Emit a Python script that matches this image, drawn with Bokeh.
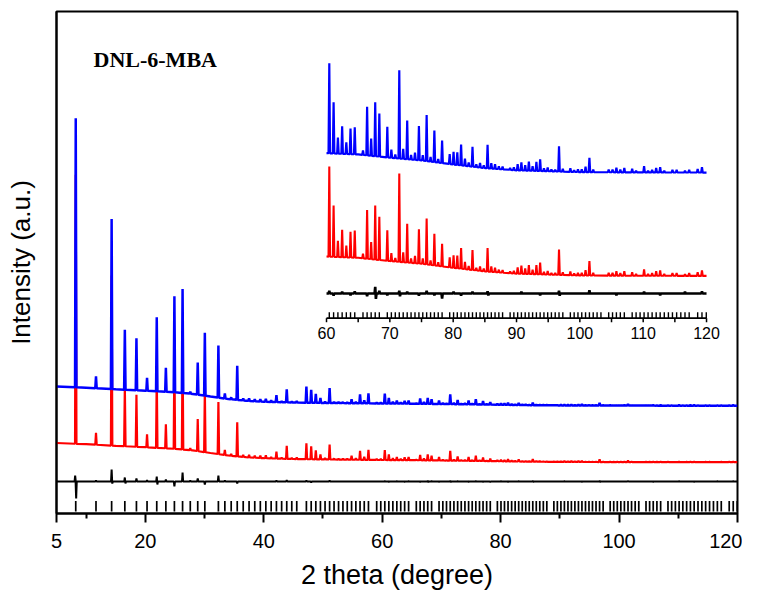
import numpy as np
from bokeh.plotting import figure
from bokeh.models import Range1d, FixedTicker, Label
from bokeh.core.properties import value
from bokeh.embed import file_html
from bokeh.resources import INLINE

# ---------------- data (2theta in degree, intensity in a.u.) ----------------
# background knots of the observed pattern
bg_tt = [5, 10, 15, 20, 25, 28, 31, 34, 37, 40, 45, 50, 55, 60, 65, 70, 75, 80,
         85, 90, 100, 110, 120]
bg_int = [127.0, 125.8, 124.2, 122.8, 121.2, 119.6, 117.0, 114.5, 112.8, 111.8,
          111.0, 110.6, 110.3, 110.0, 109.86, 109.5, 109.2, 108.75, 108.35,
          108.1, 107.9, 107.86, 107.85]

# peak positions and net peak intensities
peak_tt = [8.25, 11.67, 14.31, 16.54, 18.50, 20.29, 21.93, 23.47, 24.91, 26.29,
           27.59, 28.85, 30.05, 32.34, 33.43, 34.50, 35.52, 36.53, 37.52, 38.48,
           39.42, 40.35, 41.25, 42.14, 43.02, 43.88, 44.73, 45.57, 47.20, 48.01,
           48.79, 49.57, 50.35, 51.12, 51.87, 52.63, 53.37, 54.10, 54.83, 55.55,
           56.26, 56.97, 57.68, 59.07, 59.76, 60.44, 61.12, 61.80, 62.47, 63.13,
           63.79, 64.46, 65.76, 66.41, 67.05, 67.69, 68.34, 69.60, 70.24, 70.86,
           71.49, 72.11, 72.74, 73.35, 73.97, 74.59, 75.20, 75.81, 76.43, 77.03,
           77.64, 78.25, 79.45, 80.06, 80.65, 81.25, 81.86, 82.45, 83.05, 83.65,
           84.24, 84.83, 85.43, 86.02, 86.61, 87.21, 87.80, 88.99, 89.58, 90.18,
           90.77, 91.37, 91.95, 92.54, 93.14, 93.73, 94.33, 94.92, 95.51, 96.11,
           96.71, 97.31, 98.50, 99.10, 99.70, 100.30, 100.90, 101.51, 102.11,
           104.55, 105.16, 105.77, 106.39, 107.02, 108.26, 108.88, 110.14, 110.77,
           111.41, 112.05, 112.68, 113.33, 114.62, 115.28, 116.60, 117.26, 118.60,
           119.28]
peak_int = [269, 12, 170, 60, 52, 13, 74, 24, 96, 104,
            2, 32, 63, 52, 5, 2, 34, 2, 2.5, 2,
            2.5, 3, 1.5, 7, 1, 13, 1, 1.5, 16, 13,
            9, 5, 1.5, 15, 1, 1, 1, 1, 4, 1.5,
            9, 3, 10, 1, 1, 10.0, 5.7, 1.8, 3.05, 1.3,
            2.85, 3.0, 0.5, 5.4, 1.9, 6.0, 4.8, 3.4, 0.9, 0.4,
            9.8, 1.1, 4.3, 0.5, 0.8, 3.8, 0.6, 5.1, 0.5, 3.5,
            0.4, 2.5, 1.1, 1.4, 1.4, 2.3, 0.8, 0.4, 2.2, 0.3,
            0.5, 0.3, 2.6, 0.6, 0.5, 0.3, 0.3, 0.2, 0.3, 0.7,
            0.9, 0.6, 1.0, 0.5, 1.0, 1.3, 0.3, 0.4, 0.2, 0.2,
            2.8, 0.3, 0.4, 0.2, 0.3, 0.3, 0.6, 1.6, 0.3,
            0.3, 0.3, 0.5, 0.3, 0.5, 0.4, 0.2, 0.7, 0.2,
            0.3, 0.5, 0.6, 0.2, 0.3, 0.3, 0.2, 0.3, 0.4,
            0.6]

# difference curve (observed - calculated)
diff_tt = [8.15, 8.32, 11.67, 14.31, 14.42, 16.54, 16.64, 18.50, 20.29, 21.93,
           22.03, 23.47, 24.91, 26.29, 27.59, 28.85, 30.05, 32.34, 33.43, 35.52,
           42.14, 43.88, 47.20, 48.01, 51.12, 60.44, 61.12, 62.47, 63.79, 64.46,
           66.41, 67.69, 67.80, 68.34, 69.60, 71.49, 71.60, 72.74, 74.59, 75.81,
           77.03, 78.25, 80.06, 81.25, 83.05, 85.43, 85.55, 90.77, 93.73, 96.71,
           96.82, 101.51, 105.77, 110.14, 112.68, 116.60, 119.28]
diff_int = [6, -17, 1, 12, -2, 4, -2, 3, 1.5, 5,
            -3, 2, -5, 9, 1, 3, -3, 6, 1, -2,
            1, 1.5, 1, -1, 1, 0.3, -0.25, 0.2, -0.2, 0.25,
            -0.3, 0.75, -0.6, 0.3, -0.2, 0.3, -0.3, 0.2, -0.25, 0.3,
            -0.2, -0.55, 0.2, -0.25, 0.2, 0.25, -0.2, 0.2, -0.2, 0.3,
            -0.25, 0.35, -0.2, 0.2, -0.2, 0.2, 0.25]

# Bragg reflection positions
refl_tt = [8.25, 11.67, 14.31, 16.54, 18.50, 20.29, 21.93, 23.47, 24.91, 26.29,
           27.59, 28.85, 30.05, 32.34, 33.43, 34.50, 35.52, 36.53, 37.52, 38.48,
           39.42, 40.35, 41.25, 42.14, 43.02, 43.88, 44.73, 45.57, 47.20, 48.01,
           48.79, 49.57, 50.35, 51.12, 51.87, 52.63, 53.37, 54.10, 54.83, 55.55,
           56.26, 56.97, 57.68, 59.07, 59.76, 60.44, 61.12, 61.80, 62.47, 63.13,
           63.79, 64.46, 65.76, 66.41, 67.05, 67.69, 68.34, 69.60, 70.24, 70.86,
           71.49, 72.11, 72.74, 73.35, 73.97, 74.59, 75.20, 75.81, 76.43, 77.03,
           77.64, 78.25, 79.45, 80.06, 80.65, 81.25, 81.86, 82.45, 83.05, 83.65,
           84.24, 84.83, 85.43, 86.02, 86.61, 87.21, 87.80, 88.99, 89.58, 90.18,
           90.77, 91.37, 91.95, 92.54, 93.14, 93.73, 94.33, 94.92, 95.51, 96.11,
           96.71, 97.31, 98.50, 99.10, 99.70, 100.30, 100.90, 101.51, 102.11,
           102.72, 103.33, 104.55, 105.16, 105.77, 106.39, 107.02, 108.26, 108.88,
           109.51, 110.14, 110.77, 111.41, 112.05, 112.68, 113.33, 113.98, 114.62,
           115.28, 115.94, 116.60, 117.26, 118.60, 119.28, 119.96]

main_ticks = [5, 20, 40, 60, 80, 100, 120]
main_minor_ticks = [10, 30, 50, 70, 90, 110]
inset_ticks = [60, 65, 70, 75, 80, 85, 90, 95, 100, 105, 110, 115, 120]
inset_labels = [60, 70, 80, 90, 100, 110, 120]

# ---------------- profile construction ----------------
HW = 0.12  # half width of the peak profile (degree)


def pattern(pos, hts, hw, base_x, base_y):
    pos = np.asarray(pos, float)
    hts = np.asarray(hts, float)
    bx = np.asarray(base_x, float)
    xs = np.unique(np.concatenate([bx, pos - hw, pos, pos + hw]))
    ys = np.interp(xs, bx, np.asarray(base_y, float))
    for p_, h_ in zip(pos, hts):
        ys = ys + h_ * np.clip(1 - np.abs(xs - p_) / hw, 0, None)
    return xs, ys


tt, obs = pattern(peak_tt, peak_int, HW, bg_tt, bg_int)
calc = obs.copy()
dtt, dif = pattern(diff_tt, diff_int, 0.1, [5, 60, 120], [0, 0, 0])
refl = np.asarray(refl_tt)

# vertical stacking offsets (main view / inset view)
CALC_SHIFT_MAIN = -56.5
DIFF_BASE_MAIN = 32
CALC_SHIFT_INSET = -11.48
DIFF_BASE_INSET = 94.41

# ---------------- figure ----------------
p = figure(width=742, height=592, x_range=Range1d(5, 120), y_range=Range1d(0, 502),
           output_backend="svg", toolbar_location=None,
           min_border_left=56, min_border_right=5, min_border_top=11,
           min_border_bottom=0, background_fill_color="white",
           border_fill_color="white")
p.xgrid.grid_line_color = None
p.ygrid.grid_line_color = None
p.outline_line_color = "black"
p.outline_line_width = 2
p.outline_line_alpha = 1

FONT = "Liberation Sans"
xa = p.xaxis[0]
xa.ticker = FixedTicker(ticks=main_ticks, minor_ticks=main_minor_ticks)
xa.axis_line_width = 2
xa.major_tick_line_width = 2
xa.minor_tick_line_width = 2
xa.major_tick_in = 0
xa.major_tick_out = 9
xa.minor_tick_in = 0
xa.minor_tick_out = 5
xa.major_label_text_font = FONT
xa.major_label_text_font_size = "20px"
xa.major_label_text_color = "black"
xa.major_label_standoff = 11
xa.axis_label = "2 theta (degree)"
xa.axis_label_text_font = FONT
xa.axis_label_text_font_size = "27px"
xa.axis_label_text_font_style = "normal"
xa.axis_label_text_color = "black"
xa.axis_label_standoff = 9

ya = p.yaxis[0]
ya.ticker = FixedTicker(ticks=[])
ya.axis_line_width = 2
ya.major_tick_in = 0
ya.major_tick_out = 0
ya.minor_tick_in = 0
ya.minor_tick_out = 0
ya.major_label_text_font_size = "0px"
ya.axis_label = "Intensity (a.u.)"
ya.axis_label_text_font = FONT
ya.axis_label_text_font_size = "26px"
ya.axis_label_text_font_style = "normal"
ya.axis_label_text_color = "black"
ya.axis_label_standoff = 21

# main view
p.line(tt, calc + CALC_SHIFT_MAIN, color="#ff0000", line_width=2.2)
p.line(tt, obs, color="#0000ff", line_width=2.5)
p.line(dtt, dif + DIFF_BASE_MAIN, color="black", line_width=2)
p.segment(x0=refl, y0=2, x1=refl, y1=12.5, color="black", line_width=1.7)

# inset view (60-120 degree, magnified)
p.extra_x_ranges = {"ix": Range1d(17.37, 124.89)}
p.extra_y_ranges = {"iy": Range1d(69.97, 125.74)}
m = (tt >= 60) & (tt <= 120)
dm = (dtt >= 60) & (dtt <= 120)
rm = refl >= 60
kw = dict(x_range_name="ix", y_range_name="iy")
p.line(tt[m], calc[m] + CALC_SHIFT_INSET, color="#ff0000", line_width=2.1, **kw)
p.line(tt[m], obs[m], color="#0000ff", line_width=2.2, **kw)
p.line(dtt[dm], dif[dm] + DIFF_BASE_INSET, color="black", line_width=2.6, **kw)
p.segment(x0=refl[rm], y0=91.67, x1=refl[rm], y1=92.33, color="black",
          line_width=1.4, **kw)
p.segment(x0=[inset_ticks[0]], y0=91.67, x1=[inset_ticks[-1]], y1=91.67,
          color="black", line_width=1.6, **kw)
p.segment(x0=inset_ticks, y0=91.67, x1=inset_ticks, y1=91.22, color="black",
          line_width=1.5, **kw)
p.text(x=inset_labels, y=89.97, text=[str(v) for v in inset_labels],
       text_font=value(FONT), text_font_size="16px", text_color="black",
       text_align="center", text_baseline="middle", **kw)

p.add_layout(Label(x=11.25, y=454, text="DNL-6-MBA", text_font="Liberation Serif",
                   text_font_style="bold", text_font_size="22px",
                   text_color="black", text_baseline="alphabetic"))

open("out.html", "w").write(file_html(p, INLINE))
